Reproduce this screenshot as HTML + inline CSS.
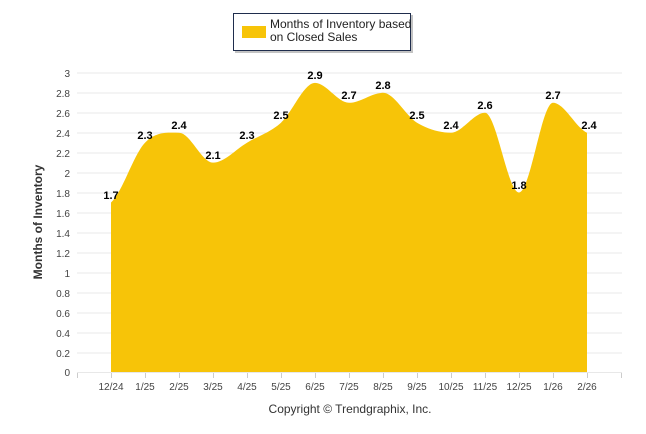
<!DOCTYPE html>
<html><head><meta charset="utf-8"><style>
body{margin:0;background:#fff;}
svg{display:block;font-family:"Liberation Sans",Arial,sans-serif;}
</style></head><body>
<svg width="646" height="434" viewBox="0 0 646 434">
<rect x="235" y="15" width="178" height="38" fill="#888" opacity="0.5"/>
<rect x="233.5" y="13.5" width="177" height="37" fill="#fff" stroke="#1f2d4d" stroke-width="1"/>
<rect x="242" y="26" width="24" height="12" fill="#F7C408"/>
<text x="270" y="28" font-size="12" fill="#222">Months of Inventory based</text>
<text x="270" y="41" font-size="12" fill="#222">on Closed Sales</text>
<g stroke="#e8e8e8" stroke-width="1">
<line x1="77" x2="622" y1="73" y2="73"/><line x1="77" x2="622" y1="93" y2="93"/><line x1="77" x2="622" y1="113" y2="113"/><line x1="77" x2="622" y1="133" y2="133"/><line x1="77" x2="622" y1="153" y2="153"/><line x1="77" x2="622" y1="173" y2="173"/><line x1="77" x2="622" y1="193" y2="193"/><line x1="77" x2="622" y1="213" y2="213"/><line x1="77" x2="622" y1="233" y2="233"/><line x1="77" x2="622" y1="253" y2="253"/><line x1="77" x2="622" y1="273" y2="273"/><line x1="77" x2="622" y1="293" y2="293"/><line x1="77" x2="622" y1="313" y2="313"/><line x1="77" x2="622" y1="333" y2="333"/><line x1="77" x2="622" y1="353" y2="353"/><line x1="77" x2="622" y1="372.5" y2="372.5"/>
</g>
<g stroke="#ccc"><line x1="77.5" x2="77.5" y1="373" y2="378"/><line x1="111.5" x2="111.5" y1="373" y2="378"/><line x1="145.5" x2="145.5" y1="373" y2="378"/><line x1="179.5" x2="179.5" y1="373" y2="378"/><line x1="213.5" x2="213.5" y1="373" y2="378"/><line x1="247.5" x2="247.5" y1="373" y2="378"/><line x1="281.5" x2="281.5" y1="373" y2="378"/><line x1="315.5" x2="315.5" y1="373" y2="378"/><line x1="349.5" x2="349.5" y1="373" y2="378"/><line x1="383.5" x2="383.5" y1="373" y2="378"/><line x1="417.5" x2="417.5" y1="373" y2="378"/><line x1="451.5" x2="451.5" y1="373" y2="378"/><line x1="485.5" x2="485.5" y1="373" y2="378"/><line x1="519.5" x2="519.5" y1="373" y2="378"/><line x1="553.5" x2="553.5" y1="373" y2="378"/><line x1="587.5" x2="587.5" y1="373" y2="378"/><line x1="621.5" x2="621.5" y1="373" y2="378"/></g>
<path d="M111,202.5 C122.3,192.5 133.7,154.3 145,142.7 C156.3,131.1 167.7,132.7 179,132.7 C190.3,132.7 201.7,162.6 213,162.6 C224.3,162.6 235.7,149.35 247,142.7 C258.3,136.05 269.7,132.7 281,122.7 C292.3,112.7 303.7,82.9 315,82.9 C326.3,82.9 337.7,102.8 349,102.8 C360.3,102.8 371.7,92.8 383,92.8 C394.3,92.8 405.7,116.05 417,122.7 C428.3,129.35 439.7,132.7 451,132.7 C462.3,132.7 473.7,112.8 485,112.8 C496.3,112.8 507.7,192.5 519,192.5 C530.3,192.5 541.7,102.8 553,102.8 C564.3,102.8 575.7,127.7 587,132.7 L587,372 L111,372 Z" fill="#F7C408"/>
<g font-size="10" fill="#444" text-anchor="end">
<text x="70" y="77">3</text><text x="70" y="97">2.8</text><text x="70" y="117">2.6</text><text x="70" y="137">2.4</text><text x="70" y="157">2.2</text><text x="70" y="177">2</text><text x="70" y="197">1.8</text><text x="70" y="217">1.6</text><text x="70" y="237">1.4</text><text x="70" y="257">1.2</text><text x="70" y="277">1</text><text x="70" y="297">0.8</text><text x="70" y="317">0.6</text><text x="70" y="337">0.4</text><text x="70" y="357">0.2</text><text x="70" y="376">0</text>
</g>
<g font-size="10" fill="#444" text-anchor="middle">
<text x="111" y="390">12/24</text><text x="145" y="390">1/25</text><text x="179" y="390">2/25</text><text x="213" y="390">3/25</text><text x="247" y="390">4/25</text><text x="281" y="390">5/25</text><text x="315" y="390">6/25</text><text x="349" y="390">7/25</text><text x="383" y="390">8/25</text><text x="417" y="390">9/25</text><text x="451" y="390">10/25</text><text x="485" y="390">11/25</text><text x="519" y="390">12/25</text><text x="553" y="390">1/26</text><text x="587" y="390">2/26</text>
</g>
<g font-size="11" font-weight="bold" fill="#000" text-anchor="middle">
<text x="111" y="199">1.7</text><text x="145" y="139">2.3</text><text x="179" y="129">2.4</text><text x="213" y="159">2.1</text><text x="247" y="139">2.3</text><text x="281" y="119">2.5</text><text x="315" y="79">2.9</text><text x="349" y="99">2.7</text><text x="383" y="89">2.8</text><text x="417" y="119">2.5</text><text x="451" y="129">2.4</text><text x="485" y="109">2.6</text><text x="519" y="189">1.8</text><text x="553" y="99">2.7</text><text x="589" y="129">2.4</text>
</g>
<text transform="translate(42,222) rotate(-90)" font-size="12" font-weight="bold" fill="#333" text-anchor="middle">Months of Inventory</text>
<text x="350" y="413" font-size="12" fill="#333" text-anchor="middle">Copyright © Trendgraphix, Inc.</text>
</svg>
</body></html>
